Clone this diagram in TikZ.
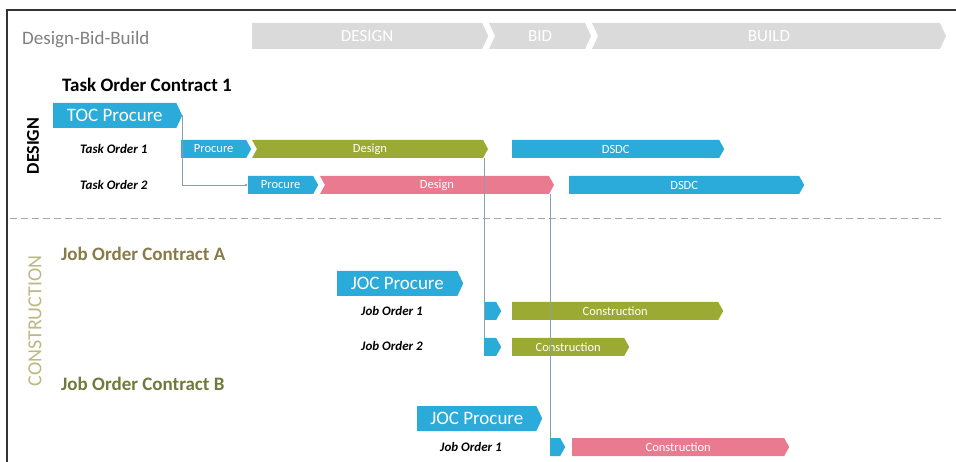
\documentclass[tikz,border=0pt]{standalone}
\usepackage{fontspec}
\setmainfont{Carlito}
\usetikzlibrary{shapes.symbols,arrows.meta}
\definecolor{cblue}{HTML}{2AABD9}
\definecolor{colive}{HTML}{9BAA32}
\definecolor{cpink}{HTML}{EA7A90}
\definecolor{cchev}{HTML}{DADADA}
\definecolor{cline}{HTML}{8C9EA8}
\definecolor{cjoca}{HTML}{877B48}
\definecolor{cjocb}{HTML}{6F7B3C}
\definecolor{cconst}{HTML}{BDB883}
\tikzset{
  bar/.style={shape=signal, signal to=east, signal pointer angle=122, inner sep=0pt,
    text=white, font=\fontsize{12.5}{12.5}\selectfont, minimum height=18},
  notch/.style={signal from=west},
  bigbox/.style={shape=signal, signal to=east, signal pointer angle=130, inner sep=0pt,
    fill=cblue, text=white, font=\fontsize{19}{19}\selectfont, minimum height=25},
  chev/.style={shape=signal, signal to=east, signal pointer angle=130, inner sep=0pt,
    fill=cchev, text=white, font=\fontsize{17}{17}\selectfont, minimum height=26},
  rowlabel/.style={anchor=west, font=\fontsize{13}{13}\selectfont\bfseries\itshape, inner sep=0pt},
  contract/.style={anchor=west, font=\fontsize{19}{19}\selectfont\bfseries, inner sep=0pt},
  conn/.style={draw=cline, line width=0.8pt},
}
\begin{document}
\begin{tikzpicture}[x=1pt,y=-1pt]
\useasboundingbox (0,0) rectangle (956,462);
\fill[white] (0,0) rectangle (956,462);
\draw[line width=1.2pt, black!80] (7,462) -- (7,10) -- (956,10);

% header
\node[anchor=west, inner sep=0pt, text=black!50, font=\fontsize{19}{19}\selectfont] (dbb) at (22,40) {Design-Bid-Build};
\node[chev, anchor=west, minimum width=236] (phd) at (252,36) {DESIGN};
\node[chev, notch, minimum width=102] (phb) at (540,36) {BID};
\node[chev, notch, minimum width=354] (phu) at (769,36) {BUILD};

% design section
\node[rotate=90, inner sep=0pt, font=\fontsize{18}{18}\selectfont\bfseries] (secd) at (33,146) {DESIGN};
\node[contract] (toc1) at (62,85) {Task Order Contract 1};
\node[bigbox, anchor=west, minimum width=129] (toc) at (53,115.5) {TOC Procure};
\node[rowlabel] (to1) at (80,149) {Task Order 1};
\node[rowlabel] (to2) at (80,185) {Task Order 2};

\node[bar, anchor=west, fill=cblue, minimum width=70] (p1) at (181,149) {Procure};
\node[bar, notch, fill=colive, minimum width=236] (d1) at (370,149) {Design};
\node[bar, anchor=west, fill=cblue, minimum width=212] (s1) at (512,149) {DSDC};

\node[bar, anchor=west, fill=cblue, minimum width=70] (p2) at (248,185) {Procure};
\node[bar, notch, fill=cpink, minimum width=234] (d2) at (437,185) {Design};
\node[bar, anchor=west, fill=cblue, minimum width=235] (s2) at (569,185) {DSDC};

\draw[dashed, dash pattern=on 7pt off 4pt, black!35, line width=0.9pt] (10,218) -- (943,218);

% construction section
\node[rotate=90, inner sep=0pt, text=cconst, font=\fontsize{20}{20}\selectfont] (secc) at (35,321) {CONSTRUCTION};
\node[contract, text=cjoca] (joca) at (61,254) {Job Order Contract A};
\node[bigbox, anchor=west, minimum width=126] (jocpa) at (337,283.5) {JOC Procure};
\node[rowlabel] (jao1) at (361,311) {Job Order 1};
\node[rowlabel] (jao2) at (361,346) {Job Order 2};
\node[bar, anchor=west, fill=cblue, minimum width=17] (ja1) at (484,311) {};
\node[bar, anchor=west, fill=cblue, minimum width=17] (ja2) at (484,347) {};
\node[bar, anchor=west, fill=colive, minimum width=211] (ca1) at (512,311) {Construction};
\node[bar, anchor=west, fill=colive, minimum width=117] (ca2) at (512,347) {Construction};

\node[contract, text=cjocb] (jocb) at (61,384) {Job Order Contract B};
\node[bigbox, anchor=west, minimum width=125] (jocpb) at (417,418.5) {JOC Procure};
\node[rowlabel] (jbo1) at (440,447) {Job Order 1};
\node[bar, anchor=west, fill=cblue, minimum width=15] (jb1) at (550,447) {};
\node[bar, anchor=west, fill=cpink, minimum width=217] (cb1) at (572,447) {Construction};

% connectors
\draw[conn] (toc.east) -- (toc.east |- p2.west);
\draw[conn, -{Latex[length=3pt,width=3pt]}] (toc.east |- p2.west) -- (p2.west);
\draw[conn] (ja1.west |- d1.south) -- (ja2.north west);
\draw[conn] (jb1.west |- d2.south) -- (jb1.north west);
\end{tikzpicture}
\end{document}
